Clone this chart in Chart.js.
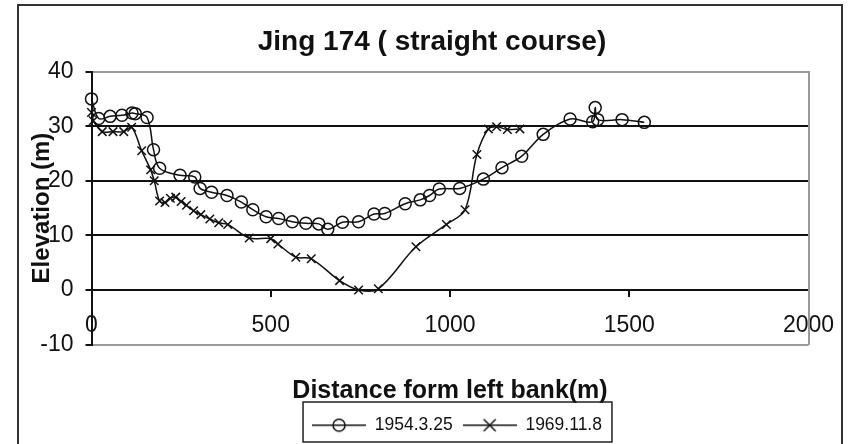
<!DOCTYPE html>
<html>
<head>
<meta charset="utf-8">
<script src="https://cdn.jsdelivr.net/npm/chart.js@4.4.0/dist/chart.umd.min.js"></script>
<style>
  body { margin: 0; background: #fff; }
  #wrap { position: relative; width: 852px; height: 444px; overflow: hidden; background: #fff; }
  #frame { position: absolute; left: 17px; top: 4px; width: 822px; height: 470px; border: 2px solid #333; }
  canvas { position: absolute; left: 0; top: 0; }
</style>
</head>
<body>
<div id="wrap">
  <div id="frame"></div>
  <canvas id="chart" width="852" height="444"></canvas>
</div>
<script>
const seriesNames = ['1954.3.25', '1969.11.8'];

const dist1954 = [0, 20, 52, 85, 113, 122, 155, 173, 190, 247, 288, 303, 335, 378, 418, 450, 487, 522, 560, 598, 634, 659, 700, 745, 788, 818, 875, 917, 943, 970, 1027, 1093, 1145, 1200, 1260, 1335, 1398, 1405, 1412, 1480, 1542];
const elev1954 = [35.0, 31.4, 31.8, 32.0, 32.4, 32.3, 31.6, 25.7, 22.3, 21.0, 20.7, 18.6, 17.9, 17.3, 16.1, 14.7, 13.4, 13.1, 12.5, 12.2, 12.1, 11.1, 12.4, 12.5, 13.9, 14.0, 15.8, 16.5, 17.3, 18.5, 18.6, 20.3, 22.4, 24.5, 28.5, 31.3, 30.8, 33.4, 31.2, 31.2, 30.7];

const dist1969 = [0, 5, 30, 60, 90, 112, 140, 165, 175, 190, 205, 220, 235, 250, 265, 285, 305, 330, 355, 380, 440, 500, 520, 570, 613, 692, 745, 800, 905, 990, 1042, 1075, 1107, 1130, 1160, 1195];
const elev1969 = [32.5, 31.0, 29.0, 29.0, 29.0, 29.8, 25.5, 22.0, 20.0, 16.3, 16.0, 16.8, 17.0, 16.2, 15.5, 14.5, 13.8, 13.0, 12.3, 12.0, 9.5, 9.4, 8.4, 6.0, 5.7, 1.7, 0.0, 0.2, 7.9, 12.0, 14.7, 24.8, 29.5, 29.9, 29.4, 29.5];

const xTicks = [0, 500, 1000, 1500, 2000];
const yTicks = [-10, 0, 10, 20, 30, 40];

const FONT = "'Liberation Sans', Arial, sans-serif";

function toPoints(xs, ys) {
  return xs.map((x, i) => ({ x: x, y: ys[i] }));
}

// small line+marker samples for the legend
function makeSample(kind) {
  const c = document.createElement('canvas');
  c.width = 54;
  c.height = 16;
  const g = c.getContext('2d');
  g.strokeStyle = '#111';
  g.lineWidth = 1.5;
  g.beginPath();
  g.moveTo(0, 8);
  g.lineTo(54, 8);
  g.stroke();
  g.beginPath();
  if (kind === 'circle') {
    g.arc(27, 8, 6, 0, Math.PI * 2);
  } else {
    g.moveTo(21, 2); g.lineTo(33, 14);
    g.moveTo(33, 2); g.lineTo(21, 14);
  }
  g.stroke();
  return c;
}
const samples = [makeSample('circle'), makeSample('cross')];

// nudge legend to the right a little, like the original
const legendShift = {
  id: 'legendShift',
  afterLayout(chart) {
    chart.legend.left += 7;
    chart.legend.right += 7;
  }
};

// box around the legend
const legendFrame = {
  id: 'legendFrame',
  afterDraw(chart) {
    const lg = chart.legend;
    const w = lg.lineWidths[0];
    const cx = (lg.left + lg.right) / 2;
    const c = chart.ctx;
    c.save();
    c.strokeStyle = '#222';
    c.lineWidth = 1.5;
    c.strokeRect(cx - w / 2 - 4, 402, w + 9, 40);
    c.restore();
  }
};

const ctx = document.getElementById('chart').getContext('2d');
const chart = new Chart(ctx, {
  type: 'scatter',
  data: {
    datasets: [{
      label: seriesNames[0],
      data: toPoints(dist1954, elev1954),
      showLine: true,
      borderColor: '#111',
      borderWidth: 1.5,
      tension: 0.35,
      pointStyle: 'circle',
      pointRadius: 6,
      pointBorderWidth: 1.5,
      pointBorderColor: '#111',
      pointBackgroundColor: 'rgba(0,0,0,0)',
      clip: false,
      xAxisID: 'x',
      yAxisID: 'y'
    },
    {
      label: seriesNames[1],
      data: toPoints(dist1969, elev1969),
      showLine: true,
      borderColor: '#111',
      borderWidth: 1.5,
      tension: 0.35,
      pointStyle: 'crossRot',
      pointRadius: 6,
      pointBorderWidth: 1.5,
      pointBorderColor: '#111',
      pointBackgroundColor: 'rgba(0,0,0,0)',
      clip: false,
      xAxisID: 'x',
      yAxisID: 'y'
    }]
  },
  options: {
    responsive: false,
    animation: false,
    layout: { padding: { left: 12, right: 0, top: 0, bottom: 0 } },
    plugins: {
      title: {
        display: true,
        text: 'Jing 174 ( straight course)',
        color: '#111',
        font: { family: FONT, size: 28, weight: 'bold' },
        padding: { top: 25, bottom: 13 }
      },
      legend: {
        position: 'bottom',
        fullSize: false,
        labels: {
          usePointStyle: true,
          pointStyleWidth: 54,
          color: '#111',
          padding: 10,
          font: { family: FONT, size: 17.5 },
          generateLabels: chart => chart.data.datasets.map((ds, i) => ({
            text: ds.label,
            pointStyle: samples[i],
            fillStyle: 'rgba(0,0,0,0)',
            strokeStyle: 'rgba(0,0,0,0)',
            lineWidth: 0,
            hidden: false,
            datasetIndex: i,
            fontColor: '#111'
          }))
        }
      },
      tooltip: { enabled: false }
    },
    scales: {
      x: {
        type: 'linear',
        position: 'bottom',
        min: xTicks[0],
        max: xTicks[xTicks.length - 1],
        ticks: { display: false, stepSize: xTicks[1] - xTicks[0] },
        grid: { display: false, drawTicks: false },
        border: { display: false },
        title: {
          display: true,
          text: 'Distance form left bank(m)',
          color: '#111',
          font: { family: FONT, size: 25, weight: 'bold' },
          padding: { top: 0, bottom: 0 }
        },
        afterFit: s => { s.height = 62; }
      },
      xZero: {
        type: 'linear',
        position: { y: 0 },
        min: xTicks[0],
        max: xTicks[xTicks.length - 1],
        ticks: {
          stepSize: xTicks[1] - xTicks[0],
          padding: 16,
          color: '#111',
          font: { family: FONT, size: 23 },
          callback: v => String(v)
        },
        grid: { drawOnChartArea: false, drawTicks: true, tickLength: 6, color: '#111', lineWidth: 2 },
        border: { color: '#111', width: 2 }
      },
      y: {
        type: 'linear',
        position: 'left',
        min: yTicks[0],
        max: yTicks[yTicks.length - 1],
        ticks: { stepSize: yTicks[1] - yTicks[0], padding: 12, color: '#111', font: { family: FONT, size: 23 } },
        grid: {
          color: c => (c.tick && (c.tick.value === 40 || c.tick.value === -10)) ? '#9a9a9a' : '#111',
          lineWidth: 2,
          tickLength: 6,
          tickColor: '#111'
        },
        border: { color: '#111', width: 2 },
        title: {
          display: true,
          text: 'Elevation (m)',
          color: '#111',
          font: { family: FONT, size: 24, weight: 'bold' },
          padding: { top: 16, bottom: 0 }
        },
        afterFit: s => { s.width = 79.5; }
      },
      yRight: {
        type: 'linear',
        position: 'right',
        min: yTicks[0],
        max: yTicks[yTicks.length - 1],
        ticks: { display: false },
        grid: { drawOnChartArea: false, drawTicks: false },
        border: { color: '#9a9a9a', width: 2 },
        afterFit: s => { s.width = 43.5; }
      }
    }
  },
  plugins: [legendShift, legendFrame]
});
</script>
</body>
</html>
